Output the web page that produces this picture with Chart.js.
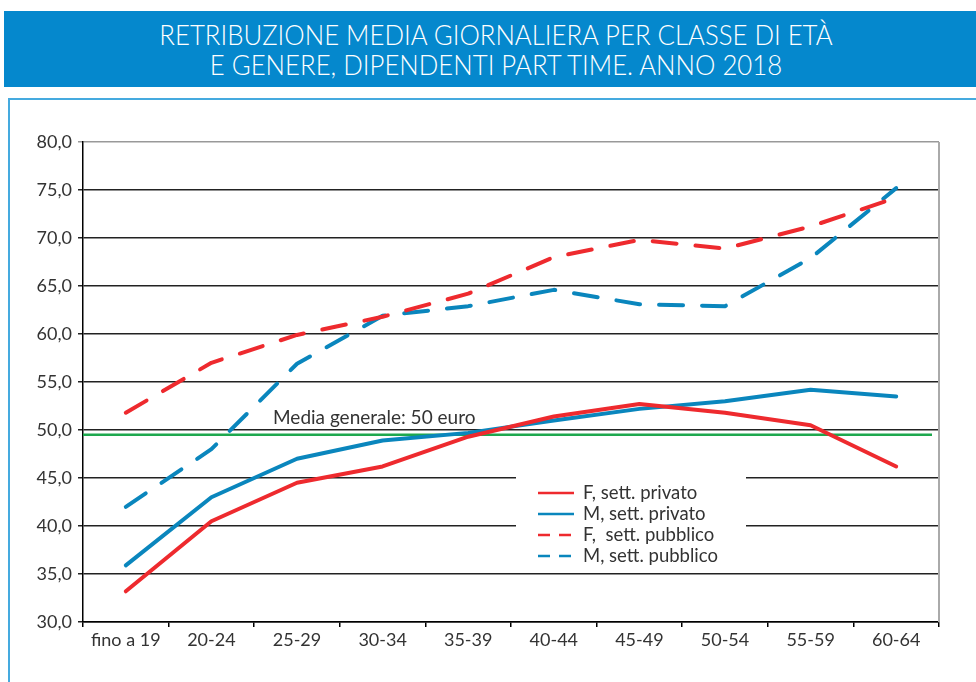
<!DOCTYPE html>
<html>
<head>
<meta charset="utf-8">
<script src="https://cdn.jsdelivr.net/npm/chart.js@4.4.1/dist/chart.umd.min.js"></script>
<style>
  html, body { margin: 0; padding: 0; background: #fff; }
  #wrap { position: relative; width: 976px; height: 682px; overflow: hidden; }
  #banner { position: absolute; left: 4px; top: 11px; width: 972px; height: 76px; background: #0588cd; }
  #banner div { position: absolute; left: 6px; width: 100%; text-align: center; color: #fff;
    font-family: Lato, sans-serif; font-weight: 300; font-size: 28px; transform: scaleX(0.92); white-space: nowrap; }
  #frame { position: absolute; left: 8px; top: 98px; width: 980px; height: 600px; border: 2px solid #45aadf; box-sizing: border-box; }
  #c { position: absolute; left: 0; top: 0; }
</style>
</head>
<body>
<div id="wrap">
  <div id="banner">
    <div style="top:6px">RETRIBUZIONE MEDIA GIORNALIERA PER CLASSE DI ETÀ</div>
    <div style="top:36px">E GENERE, DIPENDENTI PART TIME. ANNO 2018</div>
  </div>
  <div id="frame"></div>
  <canvas id="c" width="976" height="682"></canvas>
</div>
<script>
const categories = ['fino a 19', '20-24', '25-29', '30-34', '35-39', '40-44', '45-49', '50-54', '55-59', '60-64'];
const fPrivato  = [33.2, 40.5, 44.5, 46.2, 49.3, 51.4, 52.7, 51.8, 50.5, 46.2];
const mPrivato  = [35.9, 43.0, 47.0, 48.9, 49.7, 51.0, 52.2, 53.0, 54.2, 53.5];
const fPubblico = [51.8, 57.0, 59.9, 61.8, 64.2, 68.0, 69.8, 68.9, 71.2, 74.2];
const mPubblico = [42.0, 48.0, 56.9, 61.9, 62.9, 64.6, 63.1, 62.9, 67.9, 75.2];
const mediaGenerale = 49.5;
const mediaLabel = 'Media generale: 50 euro';
const seriesNames = ['F, sett. privato', 'M, sett. privato', 'F,  sett. pubblico', 'M, sett. pubblico'];

const RED = '#ee2a2e';
const BLUE = '#0a86bd';
const FONT = 'Lato, sans-serif';

// horizontal average line + its label
const mediaPlugin = {
  id: 'media',
  beforeDatasetsDraw(chart) {
    const ctx = chart.ctx, area = chart.chartArea;
    const y = chart.scales.y.getPixelForValue(mediaGenerale);
    ctx.save();
    ctx.strokeStyle = '#1ea84e';
    ctx.lineWidth = 2.5;
    ctx.beginPath();
    ctx.moveTo(area.left, y);
    ctx.lineTo(area.right - 7, y);
    ctx.stroke();
    ctx.fillStyle = '#333';
    ctx.font = '19px ' + FONT;
    ctx.textBaseline = 'alphabetic';
    ctx.fillText(mediaLabel, 273, y - 11);
    // right border
    ctx.strokeStyle = '#aaa';
    ctx.lineWidth = 2;
    ctx.beginPath();
    ctx.moveTo(area.right, area.top);
    ctx.lineTo(area.right, area.bottom);
    ctx.stroke();
    ctx.restore();
  }
};

// legend box inside the plot
const legendPlugin = {
  id: 'boxLegend',
  afterDatasetsDraw(chart) {
    const ctx = chart.ctx;
    ctx.save();
    ctx.fillStyle = '#fff';
    ctx.fillRect(516, 471, 230, 100);
    ctx.font = '18.5px ' + FONT;
    ctx.textBaseline = 'middle';
    chart.data.datasets.forEach((ds, i) => {
      const y = 493 + i * 21;
      ctx.strokeStyle = ds.borderColor;
      ctx.lineWidth = 2.5;
      ctx.setLineDash(ds.borderDash && ds.borderDash.length ? [12, 9] : []);
      ctx.beginPath();
      ctx.moveTo(538, y);
      ctx.lineTo(574, y);
      ctx.stroke();
      ctx.setLineDash([]);
      ctx.fillStyle = '#333';
      ctx.fillText(seriesNames[i], 583, y);
    });
    ctx.restore();
  }
};

const mk = (label, data, color, dash) => ({
  label, data,
  borderColor: color,
  backgroundColor: color,
  borderWidth: 4,
  borderDash: dash ? [24, 19] : [],
  borderCapStyle: 'round',
  borderJoinStyle: 'round',
  pointRadius: 0,
  tension: 0,
  fill: false
});

new Chart(document.getElementById('c'), {
  type: 'line',
  data: {
    labels: categories,
    datasets: [
      mk(seriesNames[0], fPrivato, RED, false),
      mk(seriesNames[1], mPrivato, BLUE, false),
      mk(seriesNames[2], fPubblico, RED, true),
      mk(seriesNames[3], mPubblico, BLUE, true)
    ]
  },
  options: {
    responsive: false,
    animation: false,
    layout: { padding: { top: 142, right: 37, bottom: 0, left: 0 } },
    plugins: { legend: { display: false }, tooltip: { enabled: false }, title: { display: false } },
    scales: {
      x: {
        offset: true,
        grid: { offset: true, drawOnChartArea: false, drawTicks: true, tickLength: 5, color: '#000', lineWidth: 1.5 },
        border: { display: true, color: '#000', width: 1.5 },
        ticks: { color: '#333', font: { family: FONT, size: 18 }, padding: 2, maxRotation: 0, autoSkip: false },
        afterFit(s) { s.height = 60; }
      },
      y: {
        min: 30, max: 80,
        grid: {
          color: c => (c.tick && c.tick.value === 80) ? '#999' : '#222',
          lineWidth: 1.5, tickLength: 5, drawTicks: true
        },
        border: { display: true, color: '#000', width: 1.5 },
        ticks: {
          stepSize: 5, color: '#333', padding: 6,
          font: { family: FONT, size: 18 },
          callback: v => v.toFixed(1).replace('.', ',')
        },
        afterFit(s) { s.width = 83; }
      }
    }
  },
  plugins: [mediaPlugin, legendPlugin]
});
</script>
</body>
</html>
